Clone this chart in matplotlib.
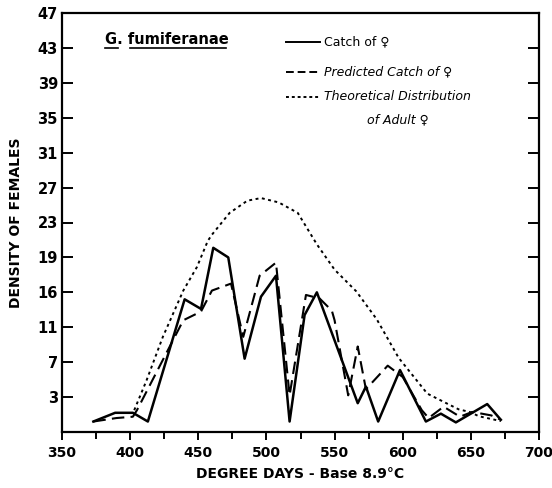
import matplotlib
matplotlib.use("Agg")
import matplotlib.pyplot as plt

# Data
catch_x = [373, 389, 402, 413, 440, 452, 461, 472, 484, 496, 507, 517, 528, 537, 567, 573, 582, 598, 617, 628, 639, 662, 672]
catch_y = [0.2, 1.2, 1.2, 0.2, 14.2, 13.1, 20.1, 19.0, 7.4, 14.5, 16.9, 0.2, 12.4, 15.0, 2.3, 4.2, 0.2, 6.1, 0.2, 1.1, 0.1, 2.2, 0.4]

pred_x = [373, 390, 402, 405, 439, 452, 460, 474, 483, 495, 507, 517, 529, 539, 548, 550, 560, 567, 573, 589, 600, 614, 619, 630, 642, 651, 665, 672]
pred_y = [0.2, 0.6, 0.75, 1.5, 11.8, 12.8, 15.2, 16.0, 9.9, 16.9, 18.4, 3.2, 14.7, 14.3, 12.9, 11.8, 3.2, 8.8, 3.9, 6.6, 5.3, 1.5, 0.6, 1.9, 0.75, 1.3, 0.9, 0.4]

theo_x = [403, 412, 424, 439, 449, 457, 460, 473, 486, 496, 509, 523, 537, 550, 566, 581, 597, 618, 632, 641, 649, 656, 672]
theo_y = [1.5, 4.9, 9.9, 15.2, 17.9, 20.9, 21.6, 24.1, 25.5, 25.8, 25.3, 24.1, 20.5, 17.6, 15.1, 11.9, 7.5, 3.4, 2.3, 1.6, 1.3, 0.8, 0.25]

y_ticks = [3, 7, 11, 15, 19, 23, 27, 31, 35, 39, 43, 47]
y_tick_labels = ["3", "7", "11", "16", "19", "23", "27", "31", "35", "39", "43", "47"]
x_ticks = [350, 400, 450, 500, 550, 600, 650, 700]

plt.rcParams['font.family'] = ['DejaVu Sans']

fig = plt.figure(figsize=(5.52, 4.88), dpi=100)
ax = fig.add_axes([62/552, 1 - 432/488, (539-62)/552, (432-13)/488])

ax.plot(catch_x, catch_y, color='black', lw=1.8, ls='-')
ax.plot(pred_x, pred_y, color='black', lw=1.5, ls=(0, (6, 3)))
ax.plot(theo_x, theo_y, color='black', lw=1.4, ls=(0, (1.5, 1.8)))

ax.set_xlim(350, 700)
ax.set_ylim(-1, 47)
ax.set_yticks(y_ticks)
ax.set_yticklabels(y_tick_labels)
ax.set_xticks(x_ticks)
ax.set_xticks([375, 425, 475, 525, 575, 625, 675], minor=True)

for s in ax.spines.values():
    s.set_linewidth(1.6)

ax.tick_params(axis='y', direction='in', length=8, width=1.4, right=True, labelsize=10.5, pad=3)
ax.tick_params(axis='x', which='major', direction='out', length=6, width=1.4, labelsize=10, pad=4)
ax.tick_params(axis='x', which='minor', direction='out', length=5, width=1.4)
for lab in ax.get_xticklabels() + ax.get_yticklabels():
    lab.set_fontweight('bold')

ax.set_xlabel("DEGREE DAYS - Base 8.9°C", fontsize=10, fontweight='bold', labelpad=5)
ax.set_ylabel("DENSITY OF FEMALES", fontsize=10, fontweight='bold', labelpad=10)

def px2ax(x, y):
    return ((x - 62) / (539 - 62), (432 - y) / (432 - 13))

tx, ty = px2ax(105, 40)
ax.text(tx, ty, "G. fumiferanae", transform=ax.transAxes, fontsize=10.5, fontweight='bold',
        ha='left', va='center')
ux1, uy = px2ax(105, 48)
ux2, _ = px2ax(118, 48)
ax.plot([ux1, ux2], [uy, uy], transform=ax.transAxes, color='black', lw=1.2)
ux3, _ = px2ax(130, 48)
ux4, _ = px2ax(226, 48)
ax.plot([ux3, ux4], [uy, uy], transform=ax.transAxes, color='black', lw=1.2)

leg = [("-", 42, "Catch of ♀", 'normal'),
       ((0, (4, 2)), 72, "Predicted Catch of ♀", 'italic'),
       ((0, (1.5, 1.5)), 97, "Theoretical Distribution", 'italic')]
for ls, yy, txt, st in leg:
    a1, b = px2ax(286, yy)
    a2, _ = px2ax(320, yy)
    ax.plot([a1, a2], [b, b], transform=ax.transAxes, color='black', lw=1.4, ls=ls)
    a3, _ = px2ax(324, yy)
    ax.text(a3, b, txt, transform=ax.transAxes, fontsize=9, style=st, ha='left', va='center')
a4, b4 = px2ax(367, 120)
ax.text(a4, b4, "of Adult ♀", transform=ax.transAxes, fontsize=9, style='italic', ha='left', va='center')

fig.savefig("out.png", dpi=100)
